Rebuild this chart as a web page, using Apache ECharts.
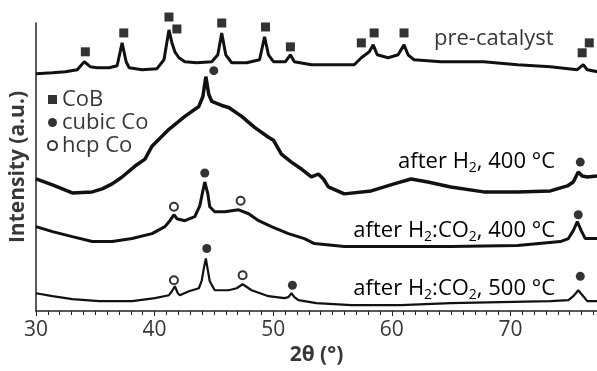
<!DOCTYPE html>
<html>
<head>
<meta charset="utf-8">
<script src="https://cdn.jsdelivr.net/npm/echarts@6/dist/echarts.min.js"></script>
<style>
  html, body { margin: 0; padding: 0; background: #fff; }
  #chart { width: 597px; height: 371px; }
</style>
</head>
<body>
<div id="chart"></div>
<script>
// XRD patterns, [2θ (°), intensity (a.u., stacked with offsets)]
const preCatalyst = [
  [30.00,239],[31.39,240],[32.48,241],[33.48,243],[34.07,251],[34.57,246],[35.16,245],[36.17,245],
  [36.84,247],[37.26,270],[37.60,251],[37.85,245],[38.94,243],[40.20,244],[40.79,253],[41.21,283],
  [41.46,270],[41.71,261],[42.05,255],[42.55,251],[43.56,250],[44.82,251],[45.33,258],[45.66,280],
  [46.00,258],[46.50,250],[47.76,250],[48.85,253],[49.27,276],[49.60,258],[50.02,251],[51.03,251],
  [51.45,258],[51.78,251],[53.22,248],[54.90,248],[56.83,248],[57.43,255],[58.10,261],[58.43,268],
  [58.77,258],[59.69,255],[60.53,258],[61.03,268],[61.37,258],[61.87,253],[64.14,251],[67.74,251],
  [70.60,248],[73.37,246],[75.64,243],[76.14,248],[76.48,243],[77.32,241]
];
const afterH2_400 = [
  [30.00,133],[31.39,127],[33.06,119],[34.74,120],[35.58,123],[36.42,128],[37.26,135],[38.35,146],
  [39.19,153],[39.78,166],[41.21,183],[42.55,196],[43.73,206],[44.07,216],[44.32,236],[44.57,218],
  [44.82,211],[45.66,207],[46.25,205],[47.34,196],[48.43,185],[49.60,175],[50.02,172],[50.69,158],
  [51.53,150],[52.38,143],[53.22,135],[53.81,138],[54.23,133],[54.65,125],[55.99,118],[58.26,121],
  [60.19,128],[61.62,133],[63.04,130],[64.97,125],[67.74,120],[70.60,120],[73.37,121],[74.80,126],
  [75.30,130],[75.72,140],[76.05,136],[76.48,135],[77.32,136]
];
const afterH2CO2_400 = [
  [30.00,85],[31.39,80],[33.06,75],[34.74,70],[36.42,70],[38.10,73],[39.78,78],[40.87,85],
  [41.29,91],[41.63,97],[41.88,93],[42.55,91],[43.39,95],[43.81,106],[44.07,121],[44.23,130],
  [44.49,118],[44.65,105],[45.07,100],[45.91,100],[47.09,102],[47.93,98],[48.77,91],[49.85,85],
  [51.28,78],[52.63,73],[53.47,68],[55.99,65],[58.85,65],[61.62,65],[64.97,65],[70.60,66],
  [74.21,70],[74.89,73],[75.30,81],[75.64,90],[75.97,81],[76.31,73],[77.32,73]
];
const afterH2CO2_500 = [
  [30.00,18],[31.39,15],[33.06,12],[35.33,10],[38.10,10],[40.03,13],[41.21,16],[41.46,20],
  [41.71,25],[41.96,18],[42.13,16],[42.89,20],[43.73,23],[43.98,31],[44.15,43],[44.32,53],
  [44.49,41],[44.65,30],[45.07,21],[46.25,21],[46.92,23],[47.42,27],[48.18,21],[49.60,15],
  [50.94,13],[51.28,14],[51.54,18],[51.79,14],[52.12,11],[53.64,8],[56.58,6],[60.78,6],
  [64.97,8],[69.17,9],[73.37,10],[74.89,11],[75.30,15],[75.72,21],[76.14,15],[76.48,10],[77.32,10]
];

// Phase reflections marked above the patterns
const cobPeaks = [
  [34.16,261],[37.40,280],[41.21,296],[41.88,284],[45.66,290],[49.35,286],[51.45,266],
  [57.43,270],[58.51,280],[61.03,280],[76.05,260],[76.65,270]
];
const cubicCoPeaks = [
  [44.99,242],[75.89,150],[44.23,139],[75.72,97],[44.40,63],[51.62,26],[75.89,35]
];
const hcpCoPeaks = [
  [41.63,105],[47.25,111],[41.63,31],[47.42,36]
];

const xTicks = { min: 30, max: 77.3, interval: 10 };
const phaseNames = ['CoB', 'cubic Co', 'hcp Co'];

const FONT = '"Open Sans"';
const TEXT = '#383838';
const LINE = '#111';

const chart = echarts.init(document.getElementById('chart'), null, { renderer: 'canvas' });

function trace(data, width) {
  return {
    type: 'line', data: data, symbol: 'none', silent: true,
    lineStyle: { color: LINE, width: width }, z: 2
  };
}

const rich = {
  n: { fontFamily: FONT, fontSize: 22, color: TEXT, lineHeight: 22 },
  s: { fontFamily: FONT, fontSize: 14, color: TEXT, lineHeight: 14, padding: [13, 0, 0, 0] }
};

chart.setOption({
  animation: false,
  grid: { left: 33, right: 0, top: 23, bottom: 58 },
  xAxis: {
    type: 'value', min: xTicks.min, max: xTicks.max, interval: xTicks.interval,
    name: '2θ (°)', nameLocation: 'middle', nameGap: 29,
    nameTextStyle: { fontFamily: FONT, fontSize: 21, fontWeight: 'bold', color: TEXT },
    axisLine: { lineStyle: { color: '#222', width: 1.5 } },
    axisTick: { show: true, length: 5, lineStyle: { color: '#222', width: 1 } },
    minorTick: { show: true, splitNumber: 10, length: 4, lineStyle: { color: '#222', width: 1 } },
    axisLabel: { fontFamily: FONT, fontSize: 21, color: TEXT, margin: 8, showMaxLabel: false },
    splitLine: { show: false }
  },
  yAxis: {
    type: 'value', min: 0, max: 290,
    name: 'Intensity (a.u.)', nameLocation: 'middle', nameGap: 7, nameRotate: 90,
    nameTextStyle: { fontFamily: FONT, fontSize: 21, fontWeight: 'bold', color: TEXT },
    axisLine: { show: true, lineStyle: { color: '#222', width: 1.5 } },
    axisTick: { show: false }, axisLabel: { show: false }, splitLine: { show: false }
  },
  legend: {
    data: phaseNames, orient: 'vertical', left: 47, top: 88, padding: 0,
    itemWidth: 9, itemHeight: 9, itemGap: 0, selectedMode: false,
    textStyle: { fontFamily: FONT, fontSize: 22, color: TEXT, lineHeight: 23 }
  },
  series: [
    trace(preCatalyst, 3),
    trace(afterH2_400, 3.5),
    trace(afterH2CO2_400, 3),
    trace(afterH2CO2_500, 2.2),
    { name: phaseNames[0], type: 'scatter', data: cobPeaks, symbol: 'rect', symbolSize: 9,
      clip: false, itemStyle: { color: '#000' }, z: 3 },
    { name: phaseNames[1], type: 'scatter', data: cubicCoPeaks, symbol: 'circle', symbolSize: 9,
      clip: false, itemStyle: { color: '#000' }, z: 3 },
    { name: phaseNames[2], type: 'scatter', data: hcpCoPeaks, symbol: 'emptyCircle', symbolSize: 8,
      clip: false, itemStyle: { color: '#000', borderWidth: 1.4 }, z: 3 }
  ],
  graphic: [
    { type: 'text', left: 434, top: 28, style: { text: 'pre-catalyst', font: '22px ' + FONT, fill: TEXT } },
    { type: 'text', right: 42, top: 148, style: { text: '{n|after H}{s|2}{n|, 400 °C}', rich: rich } },
    { type: 'text', right: 42, top: 217, style: { text: '{n|after H}{s|2}{n|:CO}{s|2}{n|, 400 °C}', rich: rich } },
    { type: 'text', right: 42, top: 275, style: { text: '{n|after H}{s|2}{n|:CO}{s|2}{n|, 500 °C}', rich: rich } }
  ]
});
</script>
</body>
</html>
